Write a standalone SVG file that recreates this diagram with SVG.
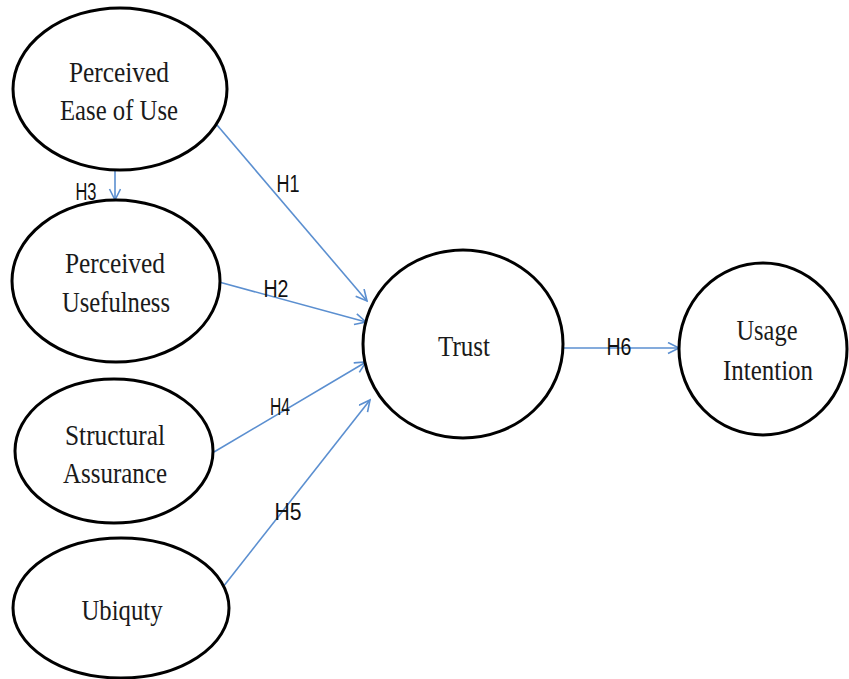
<svg xmlns="http://www.w3.org/2000/svg" width="849" height="679" viewBox="0 0 849 679">
<style>
.node ellipse{fill:#fff;stroke:#000;stroke-width:3}
.node text{font-family:"Liberation Serif","Times New Roman",serif;font-size:30px;fill:#1a1a1a;text-anchor:middle}
.conn line{stroke:#5b8fd0;stroke-width:1.6;fill:none;marker-end:url(#arr)}
.lbl{font-family:"Liberation Sans",Arial,sans-serif;font-size:23px;fill:#111;text-anchor:middle}
</style>
<defs>
<marker id="arr" markerUnits="userSpaceOnUse" markerWidth="14" markerHeight="14" refX="12" refY="6" orient="auto">
<path d="M1,0.5 L12,6 L1,11.5" fill="none" stroke="#5b8fd0" stroke-width="1.6"/>
</marker>
</defs>
<rect width="849" height="679" fill="#fff"/>
<g class="conn" id="connectors">
<line x1="217" y1="125" x2="367" y2="301"/>
<line x1="219" y1="282" x2="366" y2="322"/>
<line x1="115" y1="171" x2="115" y2="200"/>
<line x1="214" y1="452" x2="366" y2="362"/>
<line x1="223" y1="587" x2="370" y2="400"/>
<line x1="563" y1="348" x2="679" y2="348"/>
</g>
<g class="node" id="peou">
<ellipse cx="120" cy="89" rx="107" ry="81"/>
<text x="119" y="82" textLength="100" lengthAdjust="spacingAndGlyphs">Perceived</text>
<text x="119" y="120" textLength="118" lengthAdjust="spacingAndGlyphs">Ease of Use</text>
</g>
<g class="node" id="pu">
<ellipse cx="116" cy="281" rx="104" ry="81"/>
<text x="115" y="273" textLength="100" lengthAdjust="spacingAndGlyphs">Perceived</text>
<text x="116" y="312" textLength="108" lengthAdjust="spacingAndGlyphs">Usefulness</text>
</g>
<g class="node" id="sa">
<ellipse cx="114" cy="451" rx="99" ry="72"/>
<text x="115" y="445" textLength="100" lengthAdjust="spacingAndGlyphs">Structural</text>
<text x="115" y="483" textLength="104" lengthAdjust="spacingAndGlyphs">Assurance</text>
</g>
<g class="node" id="ubiq">
<ellipse cx="121" cy="608" rx="108" ry="70"/>
<text x="122" y="620" textLength="81" lengthAdjust="spacingAndGlyphs">Ubiquty</text>
</g>
<g class="node" id="trust">
<ellipse cx="463" cy="344" rx="100" ry="94"/>
<text x="464" y="356" textLength="52" lengthAdjust="spacingAndGlyphs">Trust</text>
</g>
<g class="node" id="ui">
<ellipse cx="763" cy="349" rx="84" ry="86"/>
<text x="767" y="340" textLength="61" lengthAdjust="spacingAndGlyphs">Usage</text>
<text x="768" y="380" textLength="90" lengthAdjust="spacingAndGlyphs">Intention</text>
</g>
<g id="labels">
<text class="lbl" x="288" y="192" textLength="23" lengthAdjust="spacingAndGlyphs">H1</text>
<text class="lbl" x="276" y="297" textLength="25" lengthAdjust="spacingAndGlyphs">H2</text>
<text class="lbl" x="86" y="200" textLength="21" lengthAdjust="spacingAndGlyphs">H3</text>
<text class="lbl" x="280" y="415" textLength="20" lengthAdjust="spacingAndGlyphs">H4</text>
<text class="lbl" x="288" y="520" textLength="27" lengthAdjust="spacingAndGlyphs">H5</text>
<text class="lbl" x="619" y="355" textLength="25" lengthAdjust="spacingAndGlyphs">H6</text>
</g>
</svg>
